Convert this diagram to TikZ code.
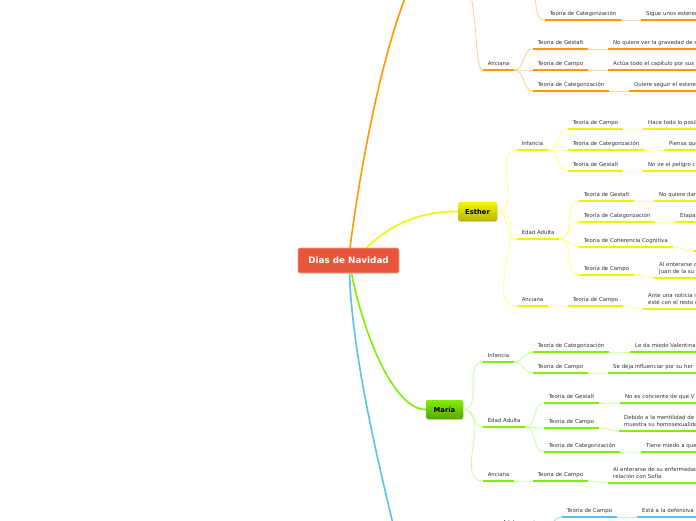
\documentclass[tikz,border=0pt]{standalone}
\usepackage{fontspec}
\setmainfont{DejaVu Sans}
\usetikzlibrary{shadows}
\pgfdeclarelayer{bg}
\pgfsetlayers{bg,main}
\definecolor{ctxt}{HTML}{333333}
\definecolor{oL}{HTML}{FF9900}
\definecolor{oC}{HTML}{FFCC88}
\definecolor{yL}{HTML}{F2F200}
\definecolor{yC}{HTML}{FFFF88}
\definecolor{gL}{HTML}{80EE00}
\definecolor{gC}{HTML}{C8FF99}
\definecolor{bL}{HTML}{5BC0EB}
\definecolor{bC}{HTML}{A8DCF4}
\definecolor{titleF}{HTML}{E8553D}
\definecolor{titleD}{HTML}{F4A08C}
\newcommand\dpfix{\rule[-1.2pt]{0pt}{0pt}}
\begin{document}
\begin{tikzpicture}[x=1pt,y=-1pt,
  tn/.style={anchor=south west,font=\fontsize{5.4}{7}\selectfont,text=ctxt,inner xsep=4.6pt,inner ysep=3.2pt,text height=4pt,text depth=1.2pt},
  lf/.style={anchor=south west,font=\fontsize{5.4}{7}\selectfont,text=ctxt,inner xsep=5pt,inner ysep=3.2pt,text width=160pt,align=left},
  ul/.style={line width=2.4pt},
  cn/.style={line width=0.8pt},
  tr/.style={line width=1.6pt},
  lk/.style={out=0,in=180},
  title/.style={fill=titleF,draw=titleD,line width=0.6pt,rounded corners=1.5pt,minimum width=101pt,minimum height=25pt,inner sep=0pt,text=white,font=\fontsize{8.8}{10}\selectfont\bfseries},
  topic/.style={draw=none,rounded corners=2pt,minimum height=19pt,inner sep=0pt,text=black,font=\fontsize{6.8}{8}\selectfont\bfseries,drop shadow={shadow xshift=0.6pt,shadow yshift=-0.8pt,opacity=0.35}}]
\useasboundingbox (0,0) rectangle (696,520);
\clip (0,0) rectangle (696,520);

% central and main topics
\node[title] (root) at (348.5,260.5) {Dias de Navidad};
\node[topic,minimum width=39pt,top color=yL!95!white,bottom color=yL!75!black] (esther) at (477.5,211.5) {Esther};
\node[topic,minimum width=37pt,top color=gL,bottom color=gL!70!black] (maria) at (444.5,409.5) {María};
\coordinate (oTop) at (409,-12);
\coordinate (bBot) at (395,532);
\coordinate (oT1) at (471.5,-2);
\coordinate (oT2) at (535,-2);

% orange branch
\node[tn] (oCatA) at (545,20) {Teoría de Categorización};
\node[lf] (oCatAL) at (641,20) {Sigue unos estereotipos\dpfix};
\node[tn] (oAnc) at (483,70) {Anciana};
\node[tn] (oG) at (533,49) {Teoría de Gestalt};
\node[lf] (oGL) at (608,49) {No quiere ver la gravedad de su\dpfix};
\node[tn] (oC) at (533,70) {Teoría de Campo};
\node[lf] (oCL) at (608,70) {Actúa todo el capítulo por sus\dpfix};
\node[tn] (oK) at (533,91) {Teoría de Categorización};
\node[lf] (oKL) at (629,91) {Quiere seguir el estereotipo\dpfix};

% yellow branch
\node[tn] (yInf) at (517,150) {Infancia};
\node[tn] (yInfC) at (568,129) {Teoría de Campo};
\node[lf] (yInfCL) at (643,129) {Hace todo lo posible\dpfix};
\node[tn] (yInfK) at (568,150) {Teoría de Categorización};
\node[lf] (yInfKL) at (664,150) {Piensa que\dpfix};
\node[tn] (yInfG) at (568,171) {Teoría de Gestalt};
\node[lf] (yInfGL) at (643,171) {No ve el peligro c\dpfix};
\node[tn] (yAd) at (517,239) {Edad Adulta};
\node[tn] (yAdG) at (579,201) {Teoría de Gestalt};
\node[lf] (yAdGL) at (654,201) {No quiere dar\dpfix};
\node[tn] (yAdK) at (579,222) {Teoría de Categorización};
\node[lf] (yAdKL) at (675,222) {Etapa de\dpfix};
\node[tn] (yAdH) at (579,247) {Teoría de Coherencia Cognitiva};
\node[lf] (yAdHL) at (693,251) {\dpfix};
\node[tn] (yAdC) at (579,275) {Teoría de Campo};
\node[lf] (yAdCL) at (654,278) {Al enterarse de\\Juan de la su\dpfix};
\node[tn] (yAnc) at (517,306) {Anciana};
\node[tn] (yAncC) at (568,306) {Teoría de Campo};
\node[lf] (yAncCL) at (643,309) {Ante una noticia i\\esté con el resto d\dpfix};

% green branch
\node[tn] (gInf) at (483,362) {Infancia};
\node[tn] (gInfK) at (533,352) {Teoría de Categorización};
\node[lf] (gInfKL) at (630,352) {Le da miedo Valentina\dpfix};
\node[tn] (gInfC) at (533,373) {Teoría de Campo};
\node[lf] (gInfCL) at (608,373) {Se deja influenciar por su her\dpfix};
\node[tn] (gAd) at (483,427) {Edad Adulta};
\node[tn] (gAdG) at (544,403) {Teoría de Gestalt};
\node[lf] (gAdGL) at (620,403) {No es conciente de que V\dpfix};
\node[tn] (gAdC) at (544,428) {Teoría de Campo};
\node[lf] (gAdCL) at (619,431) {Debido a la mentilidad de\\muestra su homosexualidad\dpfix};
\node[tn] (gAdK) at (544,452) {Teoría de Categorización};
\node[lf] (gAdKL) at (641,452) {Tiene miedo a que\dpfix};
\node[tn] (gAnc) at (483,481) {Anciana};
\node[tn] (gAncC) at (533,481) {Teoría de Campo};
\node[lf] (gAncCL) at (608,483) {Al enterarse de su enfermedad\\relación con Sofía\dpfix};

% blue branch
\node[tn] (bAdo) at (498,529) {Adolescencia};
\node[tn] (bCa) at (562,517) {Teoría de Campo};
\node[lf] (bCaL) at (637,517) {Está a la defensiva\dpfix};

% trunks
\begin{pgfonlayer}{bg}
\clip (0,0) rectangle (696,520);
\fill[white] (0,0) rectangle (696,520);
\draw[tr,oL] ([xshift=1.5pt]root.north) .. controls (360,170) and (381,55) .. (oTop);
\draw[tr,yL!90!yellow] ([xshift=18pt]root.north) .. controls (390,225) and (420,211) .. (esther.west);
\draw[tr,gL] ([xshift=3pt]root.south) .. controls (365,340) and (395,409.5) .. (maria.west);
\draw[tr,bL] ([xshift=1pt]root.south) .. controls (352,350) and (375,450) .. (bBot);
\end{pgfonlayer}

% connectors
\draw[cn,oC] (oT1) .. controls (478,40) and (476,70) .. (oAnc.south west);
\draw[cn,oC] (oT2) .. controls (537,15) and (538,20) .. (oCatA.south west);
\foreach \a/\b in {oCatA/oCatAL,oAnc/oG,oAnc/oC,oAnc/oK,oG/oGL,oC/oCL,oK/oKL}
  \draw[cn,oC] (\a.south east) to[lk] (\b.south west);
\foreach \b in {yInf,yAd,yAnc}
  \draw[cn,yC] (esther.east) to[lk] (\b.south west);
\foreach \a/\b in {yInf/yInfC,yInf/yInfK,yInf/yInfG,yInfC/yInfCL,yInfK/yInfKL,yInfG/yInfGL,yAd/yAdG,yAd/yAdK,yAd/yAdH,yAd/yAdC,yAdG/yAdGL,yAdK/yAdKL,yAdH/yAdHL,yAdC/yAdCL,yAnc/yAncC,yAncC/yAncCL}
  \draw[cn,yC] (\a.south east) to[lk] (\b.south west);
\foreach \b in {gInf,gAd,gAnc}
  \draw[cn,gC] (maria.east) to[lk] (\b.south west);
\foreach \a/\b in {gInf/gInfK,gInf/gInfC,gInfK/gInfKL,gInfC/gInfCL,gAd/gAdG,gAd/gAdC,gAd/gAdK,gAdG/gAdGL,gAdC/gAdCL,gAdK/gAdKL,gAnc/gAncC,gAncC/gAncCL}
  \draw[cn,gC] (\a.south east) to[lk] (\b.south west);
\foreach \a/\b in {bAdo/bCa,bCa/bCaL}
  \draw[cn,bC] (\a.south east) to[lk] (\b.south west);

% underlines
\foreach \n in {oCatA,oCatAL,oAnc,oG,oGL,oC,oCL,oK,oKL}
  \draw[ul,oL] (\n.south west) -- (\n.south east);
\foreach \n in {yInf,yInfC,yInfCL,yInfK,yInfKL,yInfG,yInfGL,yAd,yAdG,yAdGL,yAdK,yAdKL,yAdH,yAdHL,yAdC,yAdCL,yAnc,yAncC,yAncCL}
  \draw[ul,yL] (\n.south west) -- (\n.south east);
\foreach \n in {gInf,gInfK,gInfKL,gInfC,gInfCL,gAd,gAdG,gAdGL,gAdC,gAdCL,gAdK,gAdKL,gAnc,gAncC,gAncCL}
  \draw[ul,gL] (\n.south west) -- (\n.south east);
\foreach \n in {bAdo,bCa,bCaL}
  \draw[ul,bL] (\n.south west) -- (\n.south east);
\end{tikzpicture}
\end{document}
